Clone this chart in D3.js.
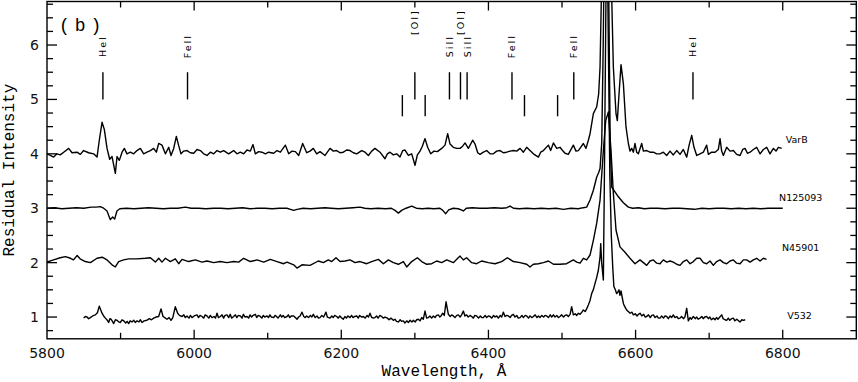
<!DOCTYPE html>
<html><head><meta charset="utf-8">
<script src="https://cdn.jsdelivr.net/npm/d3@7"></script>
<style>body{margin:0;background:#fff}svg{display:block}</style>
</head><body><svg id="c" width="858" height="382"></svg>
<script>
// ---------- data ----------
const xTickValues = [5800, 6000, 6200, 6400, 6600, 6800];
const yTickValues = [1, 2, 3, 4, 5, 6];
const seriesNames = ["VarB", "N125093", "N45901", "V532"];

const varB = [[5800,4.00],[5804.5,3.97],[5809,3.94],[5813.6,4.00],[5818,3.98],[5822.7,4.03],[5829.5,4.10],[5834,4.02],[5840.8,4.03],[5845.3,3.99],[5849.8,4.06],[5856.6,4.02],[5863.4,4.00],[5868,3.94],[5871.1,4.25],[5874.8,4.58],[5877.9,4.45],[5881.6,4.10],[5885.2,3.90],[5888.4,3.95],[5892.9,3.64],[5895.2,3.95],[5898.3,3.88],[5902,4.03],[5905.1,4.10],[5908.7,4.00],[5913.3,4.03],[5917.8,4.00],[5922.3,4.06],[5926.9,4.10],[5931.4,4.00],[5935.9,4.03],[5940.5,4.06],[5945,4.10],[5948.6,4.03],[5951.8,4.19],[5956.3,4.16],[5960.9,4.00],[5965.4,4.12],[5968.6,3.97],[5972.2,4.10],[5975.8,4.32],[5979,4.15],[5982.1,4.00],[5985.8,4.05],[5990.3,4.06],[5994.8,4.02],[5999.4,4.01],[6003.9,4.08],[6008.4,4.06],[6013,4.00],[6017.5,3.97],[6022,4.03],[6026.6,4.00],[6031.1,4.06],[6035.6,4.03],[6040.1,4.06],[6046.9,4.00],[6053.7,4.06],[6058.3,4.00],[6062.8,4.03],[6067.3,4.00],[6071.9,4.07],[6076.4,4.05],[6080,4.17],[6083.2,4.00],[6087.7,4.04],[6092.2,4.03],[6096.8,4.00],[6101.3,4.03],[6108.1,4.01],[6112.6,4.06],[6117.2,4.03],[6124,4.16],[6128.5,4.00],[6133,4.05],[6137.6,4.04],[6142.1,3.97],[6147.5,4.19],[6153,4.02],[6157.5,4.05],[6162,4.10],[6166.6,4.00],[6171.1,4.04],[6177.9,3.97],[6184.7,4.10],[6189.2,4.05],[6193.7,4.06],[6198.3,4.02],[6202.8,4.03],[6207.3,4.07],[6211.9,4.06],[6216.4,4.02],[6220.9,4.00],[6227.7,4.06],[6232.3,4.03],[6236.8,3.97],[6241.3,4.05],[6245.8,4.10],[6252.6,4.03],[6259.4,3.91],[6262.6,4.00],[6266.2,4.03],[6270.8,3.98],[6275.3,4.00],[6279.8,3.94],[6283.5,4.06],[6286.6,4.07],[6291.2,3.97],[6295.7,4.00],[6300.2,3.79],[6303.4,3.98],[6307,4.05],[6310.2,4.14],[6313.8,4.28],[6317.4,4.12],[6321.5,4.00],[6326,4.05],[6330.6,4.04],[6336.5,4.10],[6341,4.16],[6344.6,4.37],[6347.8,4.18],[6352.3,4.12],[6356.9,4.10],[6361.4,4.10],[6365,4.14],[6368.2,4.20],[6372.7,4.10],[6378.6,4.25],[6381.8,4.18],[6385.4,4.02],[6388.6,3.99],[6393.1,4.03],[6397.6,4.06],[6402.2,4.00],[6406.7,4.00],[6411.2,4.05],[6415.8,4.06],[6420.3,4.02],[6424.8,4.03],[6429.4,4.05],[6433.9,4.06],[6438.4,4.05],[6443,4.10],[6447.5,4.03],[6452,4.12],[6456.5,4.06],[6461.1,4.00],[6467.9,3.94],[6471,4.03],[6474.7,4.06],[6481.5,4.16],[6484.6,4.06],[6488.3,4.20],[6492.8,4.10],[6497.3,4.12],[6499.6,4.08],[6504.1,4.01],[6508.6,3.99],[6515.4,4.16],[6519,4.05],[6522.2,4.06],[6525.4,4.12],[6529,4.19],[6532.6,4.10],[6535.8,4.25],[6538.1,4.37],[6542.6,4.74],[6547.1,4.86],[6549.8,5.10],[6551.7,5.59],[6553.5,6.9],[6556.5,9.5],[6560,10.5],[6564,9.0],[6567.5,6.9],[6569.8,5.59],[6573.4,4.74],[6575.2,4.61],[6577.5,5.10],[6580.2,5.64],[6583.4,5.29],[6587,4.49],[6590.2,4.19],[6592.4,4.05],[6594.7,4.10],[6597,4.03],[6599.2,4.19],[6601.5,4.03],[6603.8,4.00],[6608.3,4.19],[6610.6,4.05],[6615.1,4.06],[6619.6,4.03],[6624.2,4.03],[6628.7,4.00],[6633.2,4.00],[6637.7,4.03],[6642.3,3.97],[6646.8,4.05],[6651.3,3.98],[6655.9,4.06],[6660.4,3.99],[6664.9,4.08],[6669.5,3.94],[6672.6,4.15],[6676.3,4.34],[6679.4,4.12],[6683.1,3.97],[6687.6,4.00],[6692.1,4.03],[6696.6,4.16],[6698.9,3.99],[6703.4,4.03],[6708,4.03],[6712.5,4.08],[6714.8,4.28],[6717,4.05],[6719.3,3.97],[6723.8,4.12],[6728.4,4.05],[6732.9,4.06],[6737.4,3.99],[6742,3.97],[6745.6,4.08],[6748.8,4.10],[6752,4.01],[6755.6,4.03],[6760.1,4.08],[6764.6,4.12],[6769.2,4.00],[6773.7,4.08],[6778.2,4.12],[6782.7,4.00],[6787.3,4.10],[6790.9,4.05],[6794.1,4.12],[6798.6,4.10]];

const n125093 = [[5800,3.00],[5810,3.01],[5820,2.99],[5830,3.00],[5840,3.01],[5850,3.00],[5860,3.02],[5867,3.02],[5872.5,3.03],[5877,3.00],[5881.6,2.95],[5884,2.86],[5886.1,2.79],[5889.3,2.84],[5892,2.80],[5895,2.95],[5899,2.99],[5908,3.00],[5918,2.99],[5928,3.00],[5938,3.01],[5948,3.00],[5958,2.99],[5968,3.00],[5978,3.00],[5988,3.02],[5996,3.00],[6006,3.00],[6016,2.99],[6026,3.00],[6036,3.00],[6046,2.99],[6056,3.00],[6066,3.01],[6076,2.99],[6086,3.00],[6096,3.00],[6106,2.99],[6116,3.00],[6126,3.00],[6131,2.98],[6135.3,2.96],[6140,2.98],[6148,3.00],[6158,2.99],[6168,3.00],[6178,3.01],[6186,3.00],[6196,2.99],[6206,3.00],[6216,3.01],[6225.5,3.02],[6232,3.00],[6240,2.99],[6250,3.00],[6260,2.99],[6268,3.00],[6273,2.96],[6277.6,2.91],[6282,2.96],[6288,3.00],[6295.7,3.04],[6302,3.00],[6310,2.99],[6318,3.00],[6326,2.99],[6334,3.00],[6338,2.96],[6341.9,2.90],[6346,2.97],[6352,3.00],[6359,2.99],[6363,2.97],[6365.9,2.95],[6370,3.00],[6378,3.01],[6388,3.00],[6398,3.00],[6408,3.01],[6418,3.00],[6425,3.01],[6429.4,3.04],[6434,3.00],[6442,2.99],[6452,3.00],[6462,2.99],[6472,3.00],[6482,2.99],[6492,3.00],[6502,2.98],[6512,3.00],[6522,2.99],[6529,3.01],[6533.5,3.02],[6538.1,3.15],[6542.6,3.33],[6547.1,3.57],[6550,3.66],[6551.7,3.73],[6554,4.2],[6556,6.0],[6558.5,9.0],[6561,9.5],[6563.5,7.0],[6565.5,4.2],[6567.5,3.39],[6572,3.30],[6576.6,3.21],[6583.4,3.10],[6590.2,3.02],[6596,3.00],[6604,3.01],[6612,2.99],[6620,3.00],[6630,3.00],[6640,2.99],[6650,3.00],[6660,3.00],[6670,2.99],[6680,2.98],[6690,3.00],[6700,2.99],[6710,3.00],[6720,3.00],[6730,2.99],[6740,3.00],[6750,2.99],[6760,3.00],[6770,2.99],[6780,3.00],[6790,3.00],[6800,3.00]];

const n45901 = [[5800,2.01],[5809,2.05],[5818,2.09],[5825,2.11],[5832,2.08],[5836,2.05],[5841,2.13],[5845,2.07],[5852,2.02],[5859,2.00],[5868,2.08],[5875,2.10],[5881.6,2.05],[5888.4,1.96],[5892.9,1.92],[5897.4,2.02],[5904.2,2.05],[5911,2.07],[5922.3,2.07],[5933.7,2.08],[5940.5,2.09],[5947.3,2.01],[5951.8,2.08],[5956.3,2.01],[5960.9,2.08],[5967.6,2.02],[5974.4,2.07],[5979,1.98],[5983.5,2.06],[5992.6,2.02],[6001.6,2.05],[6010.7,2.01],[6017.5,2.03],[6026.6,2.00],[6035.6,2.02],[6044.7,2.00],[6053.7,2.02],[6060.5,2.01],[6067.3,2.08],[6076.4,2.02],[6085.5,2.05],[6094.5,2.01],[6103.6,2.06],[6112.6,2.02],[6121.7,1.98],[6126.2,2.01],[6135.3,1.96],[6139.8,1.90],[6146.6,1.96],[6157.5,1.95],[6168.8,2.03],[6175.6,2.00],[6182.4,2.05],[6187,2.02],[6192.8,2.09],[6198.3,2.02],[6205.1,2.03],[6211.9,2.05],[6218.7,2.00],[6225.5,2.02],[6234.5,1.98],[6241.3,2.02],[6250.4,2.06],[6257.2,1.98],[6264,2.05],[6270.8,2.00],[6277.6,1.97],[6284.4,2.02],[6288.9,1.92],[6295.7,2.02],[6303.4,2.09],[6309.3,2.02],[6316.1,1.97],[6322.9,1.98],[6329.7,2.03],[6336.5,2.00],[6343.3,2.05],[6352.3,2.00],[6356.9,2.06],[6361.4,2.12],[6365.9,2.05],[6370.4,2.09],[6377.2,2.00],[6384,1.98],[6390.8,2.03],[6399.9,2.00],[6409,1.98],[6418,2.02],[6425.7,2.09],[6433.9,2.02],[6443,2.00],[6452,1.97],[6456.5,1.92],[6461.1,1.97],[6467.9,1.98],[6474.7,2.00],[6481.5,2.03],[6488.3,1.97],[6497.3,1.97],[6506.3,1.98],[6515.4,2.05],[6520,2.01],[6524.5,1.99],[6529,2.08],[6533.5,2.05],[6538.1,2.14],[6542.6,2.41],[6547.1,2.72],[6551.7,3.15],[6556.2,4.06],[6559.4,4.61],[6563,4.77],[6566.6,4.06],[6569.8,3.27],[6573.4,2.60],[6578.8,2.29],[6585.6,2.19],[6592.4,2.08],[6599.2,1.98],[6606,2.05],[6610.6,2.00],[6615.1,1.95],[6619.6,2.03],[6624.2,2.05],[6628.7,1.99],[6633.2,1.98],[6637.7,2.05],[6642.3,2.01],[6646.8,2.03],[6651.3,2.01],[6655.9,1.97],[6660.4,1.95],[6664.9,2.02],[6669.5,2.05],[6674,1.98],[6678.5,2.02],[6683.1,2.08],[6687.6,2.08],[6692.1,2.00],[6696.6,1.98],[6701.2,2.03],[6705.7,1.95],[6710.2,2.02],[6714.8,2.05],[6719.3,2.00],[6723.8,1.98],[6728.4,2.03],[6732.9,2.05],[6737.4,1.99],[6742,1.98],[6746.5,2.05],[6751,2.05],[6755.6,2.01],[6760.1,2.05],[6764.6,2.08],[6769.2,2.03],[6773.7,2.08],[6778,2.06]];

const v532 = [[5849.8,0.98],[5852,1.01],[5854.4,1.00],[5856.5,0.97],[5858.9,0.99],[5862,1.02],[5865.7,1.04],[5868.5,1.08],[5871.1,1.20],[5874.8,1.07],[5877,1.02],[5879.3,0.98],[5881.5,0.95],[5883.8,0.90],[5885.5,0.97],[5887,0.96],[5889,0.92],[5890.6,0.88],[5893,0.95],[5895.2,0.94],[5897.5,0.91],[5899.7,0.90],[5902,0.95],[5904.2,0.93],[5907,0.89],[5909,0.92],[5911,0.88],[5913,0.93],[5915.5,0.91],[5918,0.94],[5920,0.90],[5922.3,0.93],[5925,0.91],[5927,0.95],[5929.1,0.90],[5932,0.93],[5935.9,0.94],[5939,0.97],[5942,0.95],[5945,0.98],[5948,1.00],[5951.8,1.01],[5955,1.15],[5957.7,1.01],[5960,0.99],[5963.1,0.96],[5966,0.99],[5968.6,0.94],[5971,0.99],[5974.4,1.19],[5977.6,1.07],[5980,1.03],[5983.5,1.01],[5986,1.04],[5988,0.99],[5990.3,1.02],[5993,0.98],[5995,1.03],[5997.1,0.99],[6000,1.02],[6003.9,1.04],[6006,0.99],[6008,1.03],[6010.7,1.01],[6013,0.98],[6015,1.04],[6017.5,1.02],[6020,0.98],[6022,1.03],[6024.3,0.99],[6027,1.01],[6029,0.98],[6031.1,1.07],[6033,0.99],[6035.6,1.01],[6038,1.04],[6040,0.98],[6042,1.03],[6044.7,1.04],[6047,0.99],[6049,1.05],[6051,0.98],[6053.7,1.01],[6056,1.04],[6058,0.99],[6060,1.03],[6062.8,1.02],[6065,0.98],[6067,1.05],[6069,1.00],[6071.9,1.01],[6074,0.98],[6076,1.04],[6078,1.00],[6080,1.03],[6083.2,1.05],[6085,0.99],[6087,1.03],[6090,1.01],[6092,0.98],[6094,1.03],[6096,1.00],[6099,1.02],[6101,0.99],[6103,1.04],[6105,1.00],[6108.1,0.99],[6110,1.03],[6112,1.01],[6114,0.98],[6117.2,1.04],[6119,1.00],[6121,1.03],[6123,0.99],[6126.2,1.01],[6128,1.04],[6130,0.99],[6132,1.02],[6135.3,1.02],[6137.5,0.99],[6139.8,0.96],[6142,1.00],[6144,1.02],[6146.6,1.09],[6149,1.01],[6151,0.99],[6153,1.02],[6155.5,0.99],[6158,1.03],[6160,1.00],[6162,1.05],[6164.5,0.99],[6167,1.02],[6169,0.98],[6171.1,0.99],[6173.5,1.03],[6176,1.00],[6179.2,1.09],[6181,1.00],[6184.7,0.98],[6187,1.02],[6189,0.99],[6191,1.03],[6193.7,1.01],[6196,0.98],[6198,1.02],[6200,0.99],[6202.8,0.96],[6205,1.01],[6207,0.98],[6209,1.02],[6211.9,0.99],[6214,1.03],[6216,0.99],[6218,1.01],[6220.9,1.02],[6223,0.98],[6225,1.03],[6227.5,1.00],[6230,1.01],[6232.5,0.98],[6235,1.03],[6237,1.00],[6239,1.07],[6241,1.00],[6243.5,0.98],[6245.8,0.99],[6248,1.02],[6250,0.98],[6252.5,1.03],[6254.9,1.01],[6257,0.98],[6259.5,1.00],[6262.6,0.98],[6265,0.95],[6267.5,0.98],[6270.8,0.94],[6273,0.96],[6275,0.92],[6277.6,0.91],[6280,0.95],[6282,0.92],[6284.4,0.93],[6286.5,0.89],[6289,0.93],[6291.2,0.90],[6293.5,0.94],[6296,0.91],[6298,0.94],[6300.5,0.91],[6302.5,0.95],[6304.7,0.96],[6307,0.93],[6309.3,0.99],[6311.5,0.96],[6313.8,1.11],[6316,0.98],[6318.3,0.99],[6320.5,1.02],[6322.8,0.98],[6325.1,1.02],[6327.5,0.99],[6329.5,1.03],[6331.9,1.04],[6334,1.00],[6336,1.03],[6337.8,1.07],[6340,1.03],[6342.4,1.28],[6345.5,1.05],[6348,1.01],[6350,1.04],[6352.3,1.02],[6354.5,0.99],[6357,1.03],[6359.1,1.04],[6361.5,1.00],[6363.5,1.04],[6365.9,1.11],[6368,1.02],[6370.4,1.04],[6372.5,1.00],[6375,1.03],[6377.2,1.01],[6379.5,0.98],[6381.5,1.03],[6384,1.02],[6386.5,0.98],[6389,1.02],[6391,0.99],[6393.1,0.99],[6395.5,1.03],[6397.5,0.99],[6400,1.02],[6402.2,1.01],[6404.5,0.98],[6407,1.03],[6409,1.00],[6411.2,1.02],[6413.5,0.98],[6416,1.03],[6418,1.00],[6420.3,1.09],[6422.5,1.01],[6425,1.03],[6427.1,1.02],[6429.5,0.99],[6431.5,1.03],[6433.9,1.05],[6436,1.00],[6438.5,1.03],[6440.5,0.98],[6443,0.99],[6445.5,1.03],[6447.5,0.99],[6450,1.03],[6452,1.02],[6454.5,0.98],[6456.5,1.02],[6459,0.99],[6461.1,1.01],[6463.5,1.04],[6466,0.99],[6468,1.02],[6470.1,0.99],[6472.5,1.03],[6475,1.00],[6477,1.03],[6479.2,1.02],[6481.5,0.99],[6484,1.04],[6486,1.00],[6488.3,1.04],[6490.5,1.00],[6493,1.03],[6495,0.99],[6497.3,1.01],[6499.5,1.04],[6502,1.00],[6504,1.03],[6506.3,1.04],[6508.6,1.01],[6511,1.05],[6513.1,1.19],[6515.4,1.04],[6518,1.06],[6520,1.03],[6522.2,1.07],[6524.5,1.05],[6527,1.09],[6529,1.13],[6531.5,1.10],[6533.5,1.15],[6535.8,1.22],[6538,1.30],[6540.3,1.43],[6542.5,1.50],[6544.9,1.62],[6547,1.72],[6549.4,1.86],[6551.7,2.10],[6552.6,2.35],[6553.9,2.00],[6556.2,1.68],[6557.5,3.4],[6559.5,6.5],[6561,8.5],[6563,6.0],[6565,3.6],[6567,2.5],[6569,1.9],[6570.5,1.56],[6572.5,1.50],[6574.3,1.43],[6576,1.46],[6577.5,1.50],[6578.8,1.40],[6580.2,1.48],[6582,1.35],[6583.4,1.25],[6585,1.20],[6587,1.15],[6588.5,1.12],[6590.2,1.10],[6592.5,1.07],[6595,1.09],[6597,1.04],[6599.5,1.06],[6602,1.02],[6604,1.05],[6606,1.07],[6608.5,1.02],[6611,1.05],[6613,1.00],[6615.1,1.01],[6617.5,1.04],[6620,0.99],[6622,1.03],[6624.2,1.04],[6626.5,0.99],[6629,1.02],[6631,0.98],[6633.2,0.98],[6635.5,1.02],[6638,0.98],[6640,1.02],[6642.3,1.01],[6644.5,0.97],[6647,1.02],[6649,0.99],[6651.3,1.04],[6653.5,0.99],[6656,1.01],[6658,0.97],[6660.4,0.98],[6662.5,1.01],[6665,0.97],[6667,1.00],[6669.5,1.16],[6671.7,0.93],[6674,0.99],[6676,0.96],[6678.5,1.01],[6681,0.97],[6683,1.00],[6685,0.96],[6687.6,0.98],[6690,1.01],[6692,0.97],[6694,1.00],[6696.6,1.01],[6699,0.97],[6701,1.00],[6703,0.95],[6705.7,0.98],[6708,0.95],[6710,0.99],[6712,0.96],[6714.5,1.00],[6717,1.04],[6719,0.97],[6721.5,0.95],[6723.8,0.94],[6726,0.98],[6728,0.94],[6730.5,0.97],[6732.9,0.98],[6735,0.93],[6737.5,0.96],[6740,0.93],[6742,0.91],[6744.5,0.95],[6746.5,0.94],[6749,0.95]];

const lineIdWaves = [5876, 5991, 6300, 6347, 6362, 6371, 6432, 6516, 6678];
const lineIdLabels = ["HeI", "FeII", "[OI]", "SiII", "[OI]", "SiII", "FeII", "FeII", "HeI"];
const shortMarkWaves = [6283, 6314, 6449, 6494];

// ---------- layout ----------
const W = 858, H = 382;
const svg = d3.select("#c");
const x = d3.scaleLinear().domain([5800, 6900]).range([47, 856.3]);
const y = d3.scaleLinear().domain([0.6, 6.8]).range([338.8, 1.5]);
const X0 = x.range()[0], X1 = x.range()[1], Y0 = y.range()[0], Y1 = y.range()[1];

svg.append("rect").attr("width", W).attr("height", H).attr("fill", "#fff");

svg.append("defs").append("clipPath").attr("id", "plot")
  .append("rect").attr("x", X0).attr("y", Y1).attr("width", X1 - X0).attr("height", Y0 - Y1);

// spectra
const line = d3.line().x(d => x(d[0])).y(d => y(d[1]));
const allSeries = [varB, n125093, n45901, v532];
const gS = svg.append("g").attr("clip-path", "url(#plot)");
allSeries.forEach(s => {
  gS.append("path").datum(s).attr("d", line)
    .attr("fill", "none").attr("stroke", "#000").attr("stroke-width", 1.4)
    .attr("stroke-linejoin", "round");
});

// line identification marks
const gL = svg.append("g");
lineIdWaves.forEach((w, i) => {
  gL.append("line").attr("x1", x(w)).attr("x2", x(w)).attr("y1", y(5.0)).attr("y2", y(5.5))
    .attr("stroke", "#000").attr("stroke-width", 1.4);
  const lab = lineIdLabels[i];
  const ly = lab === "[OI]" ? y(6.42) : y(5.98);
  gL.append("text").text(lab)
    .attr("transform", `translate(${x(w)},${ly}) rotate(-90)`)
    .attr("text-anchor", "middle").attr("dominant-baseline", "central")
    .attr("font-family", "DejaVu Sans").attr("font-size", 9.5)
    .attr("letter-spacing", 2).attr("fill", "#000");
});
shortMarkWaves.forEach(w => {
  gL.append("line").attr("x1", x(w)).attr("x2", x(w)).attr("y1", y(4.69)).attr("y2", y(5.08))
    .attr("stroke", "#000").attr("stroke-width", 1.4);
});

// series labels
const labelPos = [[6804, 4.27], [6795, 3.19], [6799, 2.28], [6806, 1.02]];
seriesNames.forEach((n, i) => {
  svg.append("text").text(n).attr("x", x(labelPos[i][0])).attr("y", y(labelPos[i][1]))
    .attr("dominant-baseline", "central")
    .attr("font-family", "DejaVu Sans").attr("font-size", 9.5).attr("fill", "#000");
});

// axes frame + ticks
const gA = svg.append("g").attr("stroke", "#000");
gA.append("rect").attr("x", X0).attr("y", Y1).attr("width", X1 - X0).attr("height", Y0 - Y1)
  .attr("fill", "none").attr("stroke-width", 1.4);
const xMinor = d3.range(5900, 6900, 100);
xMinor.forEach(v => {
  const major = xTickValues.includes(v) || v % 200 === 0;
  const len = major ? 9 : 6;
  gA.append("line").attr("x1", x(v)).attr("x2", x(v)).attr("y1", Y0).attr("y2", Y0 - len).attr("stroke-width", 1.3);
  gA.append("line").attr("x1", x(v)).attr("x2", x(v)).attr("y1", Y1).attr("y2", Y1 + len).attr("stroke-width", 1.3);
});
const yMinor = d3.range(0.75, 6.8, 0.25);
yMinor.forEach(v => {
  const major = Math.abs(v - Math.round(v)) < 1e-6;
  const len = major ? 10 : 6;
  gA.append("line").attr("x1", X0).attr("x2", X0 + len).attr("y1", y(v)).attr("y2", y(v)).attr("stroke-width", 1.3);
  gA.append("line").attr("x1", X1).attr("x2", X1 - len).attr("y1", y(v)).attr("y2", y(v)).attr("stroke-width", 1.3);
});

// tick labels
xTickValues.forEach(v => {
  svg.append("text").text(v).attr("x", x(v)).attr("y", 358)
    .attr("text-anchor", "middle").attr("font-family", "DejaVu Sans").attr("font-size", 14).attr("fill", "#111");
});
yTickValues.forEach(v => {
  svg.append("text").text(v).attr("x", 39).attr("y", y(v))
    .attr("text-anchor", "end").attr("dominant-baseline", "central")
    .attr("font-family", "DejaVu Sans").attr("font-size", 14).attr("fill", "#111");
});

// axis titles
svg.append("text").text("Wavelength, Å").attr("x", 444).attr("y", 376)
  .attr("text-anchor", "middle").attr("font-family", "Liberation Mono").attr("font-size", 16).attr("fill", "#000");
svg.append("text").text("Residual Intensity")
  .attr("transform", `translate(14,${(Y0 + Y1) / 2}) rotate(-90)`)
  .attr("text-anchor", "middle").attr("font-family", "Liberation Mono").attr("font-size", 16).attr("fill", "#000");

// panel label
svg.append("text").text("(b)").attr("x", 59).attr("y", 31)
  .attr("font-family", "Liberation Mono").attr("font-size", 18).attr("letter-spacing", 5).attr("fill", "#000");
</script></body></html>
